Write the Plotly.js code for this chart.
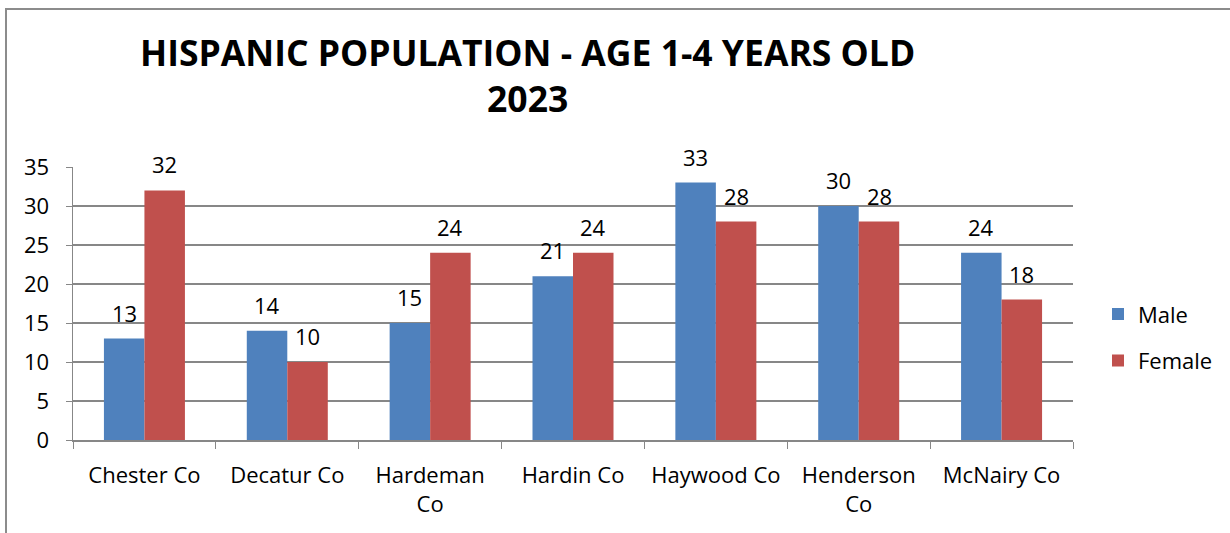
<!DOCTYPE html>
<html><head><meta charset="utf-8">
<script src="https://cdn.plot.ly/plotly-3.0.1.min.js"></script>
<style>html,body{margin:0;padding:0;background:#fff;}#chart{width:1230px;height:533px;}</style>
</head><body><div id="chart"></div>
<script>
const categories = ["Chester Co", "Decatur Co", "Hardeman<br>Co", "Hardin Co", "Haywood Co", "Henderson<br>Co", "McNairy Co"];
const maleValues = [13, 14, 15, 21, 33, 30, 24];
const femaleValues = [32, 10, 24, 24, 28, 28, 18];
const yTicks = [0, 5, 10, 15, 20, 25, 30, 35];

const font = "'Open Sans', Lato, sans-serif";
const traces = [
  {type: "bar", name: "Male", x: categories, y: maleValues, marker: {color: "#4F81BD"}, legendgroup: "m"},
  {type: "bar", name: "Female", x: categories, y: femaleValues, marker: {color: "#C0504D"}, legendgroup: "f"}
];
const labelAnn = (vals, shift) => vals.map((v, i) => ({
  x: categories[i], y: v, xref: "x", yref: "y", text: String(v), showarrow: false,
  xanchor: "center", yanchor: "middle", xshift: shift, yshift: 26,
  font: {size: 22, color: "#000", family: font}
}));
const layout = {
  width: 1230, height: 533,
  margin: {l: 73, r: 157, t: 167, b: 93},
  paper_bgcolor: "#fff", plot_bgcolor: "#fff",
  font: {family: font, color: "#000"},
  title: {text: "<b>HISPANIC POPULATION - AGE 1-4 YEARS OLD<br>2023</b>",
          font: {size: 35.5, family: font, color: "#000"},
          xref: "container", x: 0.429, xanchor: "center",
          yref: "container", y: 1 - 66/533, yanchor: "middle"},
  barmode: "group", bargap: 0.433, bargroupgap: 0,
  xaxis: {type: "category", showline: true, linecolor: "#878787", linewidth: 1.5,
          ticks: "outside", ticklen: 7, tickcolor: "#878787", tickson: "boundaries",
          ticklabelstandoff: 15, tickangle: 0, automargin: false,
          tickfont: {size: 22, color: "#000"}, showgrid: false, fixedrange: true},
  yaxis: {range: [0, 35], tickvals: yTicks, ticks: "outside", ticklen: 6, tickcolor: "#878787",
          showline: true, linecolor: "#878787", linewidth: 1.5, ticklabelstandoff: 12, automargin: false,
          showgrid: true, gridcolor: "#878787", gridwidth: 1.5, zeroline: false,
          tickfont: {size: 22, color: "#000"}, fixedrange: true},
  legend: {x: 1.025, xanchor: "left", y: 0.375, yanchor: "middle",
           font: {size: 22, color: "#000"}, tracegroupgap: 15, traceorder: "grouped"},
  annotations: labelAnn(maleValues, -20.3).concat(labelAnn(femaleValues, 20.3)),
  shapes: [{type: "rect", xref: "paper", yref: "paper", x0: -0.067, x1: 1.3, y0: -0.5, y1: 1.579,
            line: {color: "#8c8c8c", width: 2}, fillcolor: "rgba(0,0,0,0)", layer: "below"}],
  showlegend: true
};
Plotly.newPlot("chart", traces, layout, {displayModeBar: false, staticPlot: true});
</script></body></html>
